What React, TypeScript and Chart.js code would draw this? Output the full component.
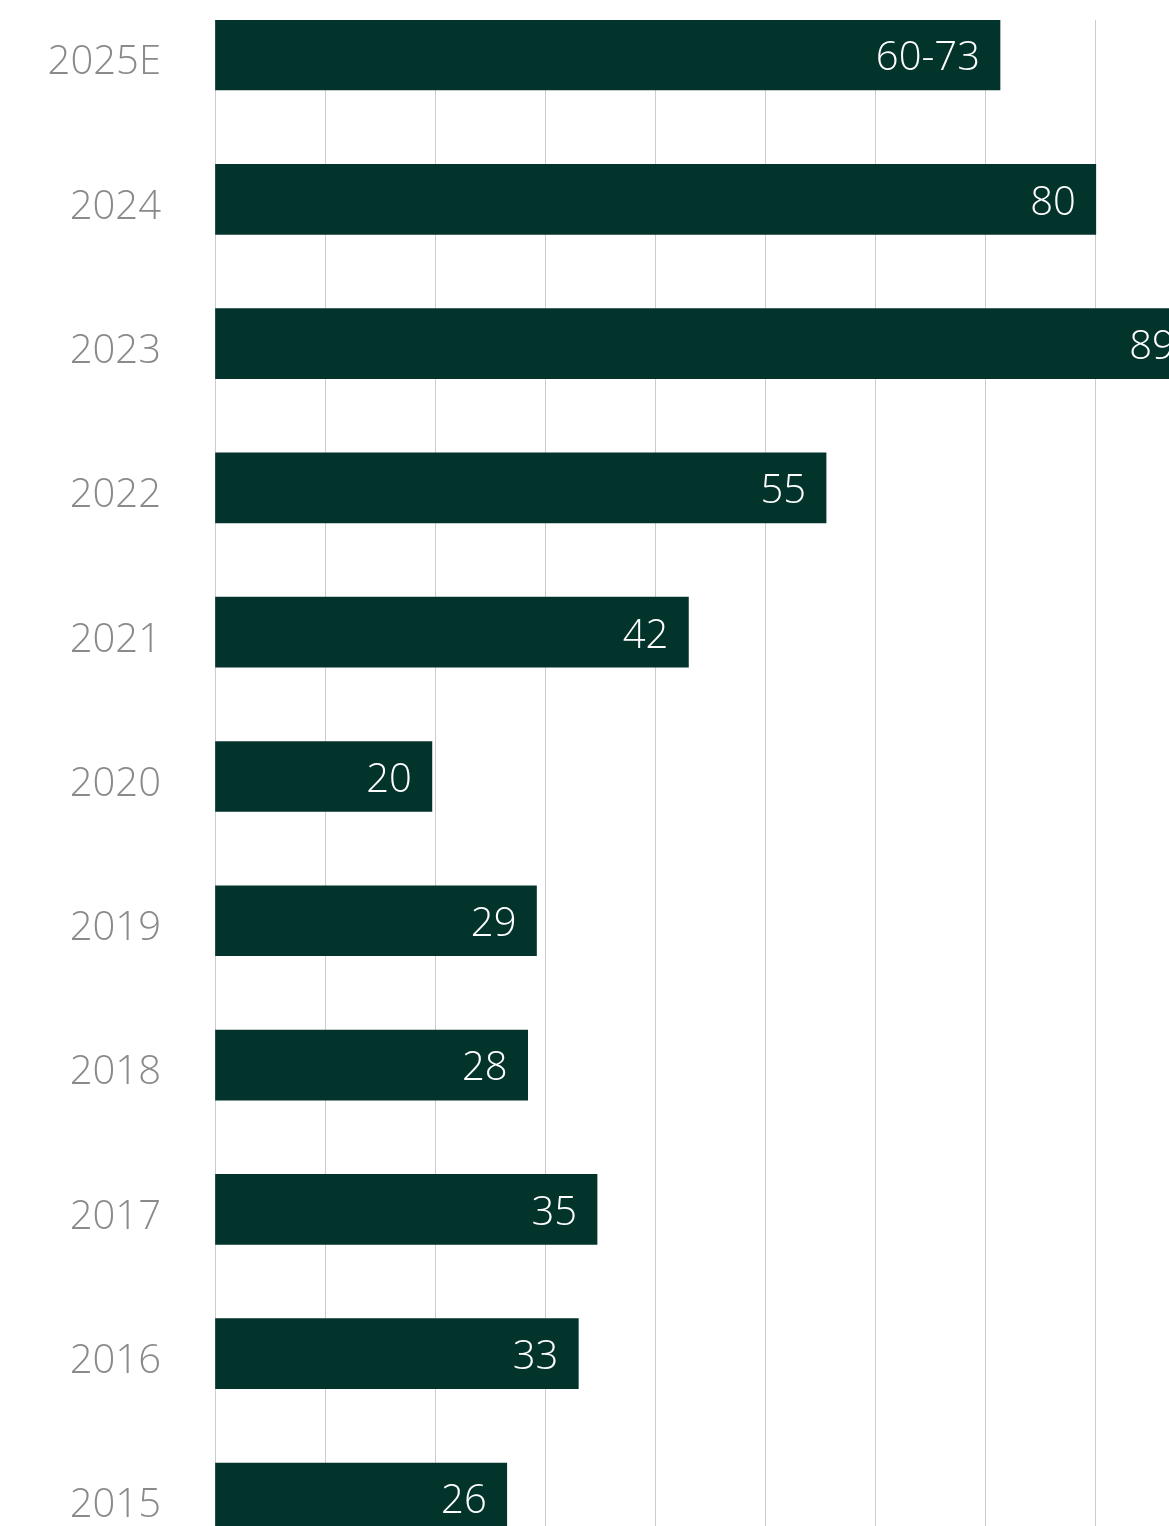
import React, { useEffect, useRef } from "react";
import { Chart, registerables } from "chart.js";

Chart.register(...registerables);

const categories = ["2025E", "2024", "2023", "2022", "2021", "2020", "2019", "2018", "2017", "2016", "2015"];
const values = [71.3, 80, 89, 55.5, 43, 19.7, 29.2, 28.4, 34.7, 33, 26.5];
const valueLabels = ["60-73", "80", "89", "55", "42", "20", "29", "28", "35", "33", "26"];
const xTickStep = 10;

const BAR_COLOR = "#03342c";
const FONT = "'Open Sans', Lato, sans-serif";

const valueLabelPlugin = {
  id: "valueLabels",
  afterDatasetsDraw(chart: any) {
    const meta = chart.getDatasetMeta(0);
    const ctx = chart.ctx;
    ctx.save();
    ctx.fillStyle = "#ffffff";
    ctx.font = `300 40px ${FONT}`;
    ctx.textAlign = "right";
    ctx.textBaseline = "middle";
    meta.data.forEach((bar: any, i: number) => {
      ctx.fillText(valueLabels[i], bar.x - 20, bar.y + 4);
    });
    ctx.restore();
  },
};

export default function App() {
  const ref = useRef<HTMLCanvasElement | null>(null);

  useEffect(() => {
    if (!ref.current) return;
    const chart = new Chart(ref.current, {
      type: "bar",
      data: {
        datasets: [
          {
            data: values.map((v, i) => ({ x: v, y: i })),
            backgroundColor: BAR_COLOR,
            borderWidth: 0,
            barThickness: 70,
          },
        ],
      },
      options: {
        indexAxis: "y",
        responsive: false,
        animation: false,
        devicePixelRatio: 1,
        layout: { padding: { top: 20, right: 0, bottom: 0, left: 0 } },
        plugins: { legend: { display: false }, tooltip: { enabled: false } },
        scales: {
          x: {
            type: "linear",
            min: 0,
            max: 100,
            ticks: { display: false, stepSize: xTickStep },
            grid: { color: "#cccccc", lineWidth: 1, drawTicks: false },
            border: { display: false },
          },
          y: {
            type: "linear",
            reverse: true,
            offset: false,
            min: -0.2426,
            max: 10.707,
            afterFit: (s: any) => {
              s.width = 215;
              s.paddingTop = 0;
              s.paddingBottom = 0;
            },
            ticks: {
              stepSize: 1,
              includeBounds: false,
              padding: 54,
              labelOffset: 8,
              color: "#8a8a8a",
              font: { family: FONT, size: 40, weight: 300 },
              callback: (v: any) => {
                const n = Number(v);
                return Number.isInteger(n) && categories[n] !== undefined ? categories[n] : "";
              },
            },
            grid: { display: false, drawTicks: false },
            border: { display: false },
          },
        },
      },
      plugins: [valueLabelPlugin],
    });
    return () => chart.destroy();
  }, []);

  return (
    <div
      style={{
        position: "absolute",
        left: 0,
        top: 0,
        width: 1169,
        height: 1526,
        overflow: "hidden",
        background: "#ffffff",
      }}
    >
      <canvas ref={ref} width={1316} height={1600} style={{ display: "block", width: 1316, height: 1600 }} />
    </div>
  );
}
